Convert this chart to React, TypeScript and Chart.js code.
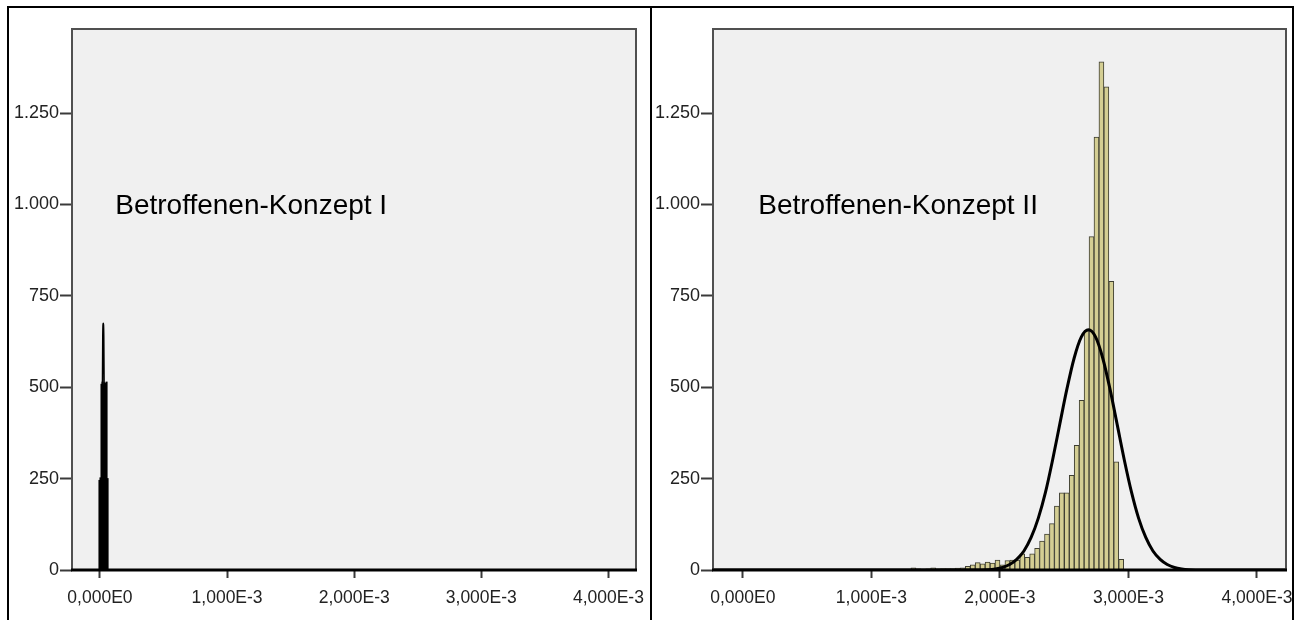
import React, { useEffect, useRef } from 'react';
import { Chart, registerables } from 'chart.js';

Chart.register(...registerables);

// x values are given in units of 1e-3
const xTickValuesE3 = [0, 1, 2, 3, 4];
const xTickLabels = ['0,000E0', '1,000E-3', '2,000E-3', '3,000E-3', '4,000E-3'];
const yTickValues = [0, 250, 500, 750, 1000, 1250];
const yTickLabels = ['0', '250', '500', '750', '1.000', '1.250'];
const panelTitles = ['Betroffenen-Konzept I', 'Betroffenen-Konzept II'];

// Panel I (very narrow distribution near zero)
const leftBinCentersE3 = [-0.004, 0.004, 0.012, 0.02, 0.028, 0.036, 0.044, 0.052, 0.06];
const leftBinCounts = [245, 252, 508, 514, 506, 512, 510, 514, 250];
const leftCurveXE3 = [-0.22, -0.005, 0.01, 0.018, 0.022, 0.026, 0.03, 0.034, 0.042, 0.057, 4.217];
const leftCurveY = [0, 0, 60, 420, 640, 675, 640, 420, 60, 0, 0];

// Panel II
const rightBinCentersE3 = [
  1.2885, 1.327, 1.3655, 1.404, 1.4425, 1.481, 1.5195, 1.558, 1.5965, 1.635, 1.6735,
  1.712, 1.7505, 1.789, 1.8275, 1.866, 1.9045, 1.943, 1.9815, 2.02, 2.0585, 2.097,
  2.1355, 2.174, 2.2125, 2.251, 2.2895, 2.328, 2.3665, 2.405, 2.4435, 2.482, 2.5205,
  2.559, 2.5975, 2.636, 2.6745, 2.713, 2.7515, 2.79, 2.8285, 2.867, 2.9055, 2.944,
];
const rightBinCounts = [
  2, 6, 3, 2, 3, 6, 3, 4, 4, 4, 5,
  6, 10, 14, 20, 17, 22, 19, 27, 14, 26, 27,
  27, 44, 35, 44, 59, 79, 98, 127, 175, 211, 211,
  259, 341, 464, 655, 912, 1184, 1390, 1322, 790, 296, 29,
];
const rightCurveXE3 = [
  -0.232, 1.797, 1.9085, 1.964, 2.02, 2.076, 2.131, 2.187, 2.243, 2.299, 2.355, 2.41,
  2.466, 2.522, 2.578, 2.633, 2.689, 2.745, 2.8, 2.856, 2.912, 2.968, 3.024, 3.079,
  3.135, 3.191, 3.247, 3.302, 3.358, 3.414, 3.47, 3.581, 4.226,
];
const rightCurveY = [
  0, 0, 1, 3, 7, 15, 29, 52, 89, 142, 213, 301,
  399, 496, 580, 637, 657, 637, 580, 496, 399, 301, 213, 142,
  89, 52, 29, 15, 7, 3, 1, 0, 0,
];

const FONT = '"Liberation Sans", Arial, Helvetica, sans-serif';

type PanelDef = {
  title: string;
  binX: number[];
  binY: number[];
  curveX: number[];
  curveY: number[];
  curveWidth: number;
  xMin: number;
  xMax: number;
  barFill: string;
  barBorder: string;
  barBorderWidth: number;
  barInflate: number | 'auto';
  padTop: number;
  padRight: number;
  yAxisWidth: number;
  xAxisHeight: number;
};

function makeConfig(p: PanelDef): any {
  const decor = {
    id: 'decor',
    beforeDraw(chart: any) {
      const { ctx, chartArea } = chart;
      ctx.save();
      ctx.fillStyle = '#F0F0F0';
      ctx.fillRect(chartArea.left, chartArea.top, chartArea.right - chartArea.left, chartArea.bottom - chartArea.top);
      ctx.restore();
    },
    afterDatasetsDraw(chart: any) {
      const { ctx, chartArea, scales } = chart;
      const { left, right, top, bottom } = chartArea;
      ctx.save();
      ctx.strokeStyle = '#505050';
      ctx.lineWidth = 2;
      ctx.beginPath();
      ctx.moveTo(left, bottom);
      ctx.lineTo(left, top);
      ctx.lineTo(right, top);
      ctx.lineTo(right, bottom);
      ctx.stroke();
      ctx.strokeStyle = '#000';
      ctx.lineWidth = 3;
      ctx.beginPath();
      ctx.moveTo(left - 1, bottom);
      ctx.lineTo(right + 1, bottom);
      ctx.stroke();
      ctx.fillStyle = '#000';
      ctx.font = `28px ${FONT}`;
      ctx.textAlign = 'left';
      ctx.textBaseline = 'alphabetic';
      const tx = scales.x.getPixelForValue(0.12);
      const ty = scales.y.getPixelForValue(1000) + 10;
      ctx.fillText(p.title, tx, ty);
      ctx.restore();
    },
  };

  return {
    type: 'bar',
    data: {
      datasets: [
        {
          type: 'line',
          data: p.curveX.map((x, i) => ({ x, y: p.curveY[i] })),
          borderColor: '#000',
          borderWidth: p.curveWidth,
          pointRadius: 0,
          cubicInterpolationMode: 'monotone',
          fill: false,
          order: 0,
        },
        {
          type: 'bar',
          data: p.binX.map((x, i) => ({ x, y: p.binY[i] })),
          backgroundColor: p.barFill,
          borderColor: p.barBorder,
          borderWidth: p.barBorderWidth,
          inflateAmount: p.barInflate,
          barPercentage: 1,
          categoryPercentage: 1,
          order: 1,
        },
      ],
    },
    options: {
      animation: false,
      responsive: false,
      maintainAspectRatio: false,
      layout: { padding: { top: p.padTop, right: p.padRight, left: 0, bottom: 0 } },
      plugins: { legend: { display: false }, tooltip: { enabled: false } },
      scales: {
        x: {
          type: 'linear',
          min: p.xMin,
          max: p.xMax,
          offset: false,
          afterBuildTicks: (s: any) => {
            s.ticks = xTickValuesE3.map((v) => ({ value: v }));
          },
          afterFit: (s: any) => {
            s.height = p.xAxisHeight;
            s.paddingLeft = 0;
            s.paddingRight = 0;
          },
          ticks: {
            autoSkip: false,
            maxRotation: 0,
            minRotation: 0,
            padding: 10,
            color: '#222',
            font: { family: FONT, size: 17.5 },
            callback: (v: any) => xTickLabels[xTickValuesE3.indexOf(Number(v))] ?? '',
          },
          grid: {
            offset: false,
            drawOnChartArea: false,
            drawTicks: true,
            tickLength: 8,
            tickWidth: 2,
            tickColor: '#3a3a3a',
          },
          border: { display: false },
        },
        y: {
          type: 'linear',
          min: 0,
          max: 1480,
          afterBuildTicks: (s: any) => {
            s.ticks = yTickValues.map((v) => ({ value: v }));
          },
          afterFit: (s: any) => {
            s.width = p.yAxisWidth;
            s.paddingTop = 0;
            s.paddingBottom = 0;
          },
          ticks: {
            autoSkip: false,
            padding: 1,
            color: '#222',
            font: { family: FONT, size: 18 },
            callback: (v: any) => yTickLabels[yTickValues.indexOf(Number(v))] ?? '',
          },
          grid: {
            offset: false,
            drawOnChartArea: false,
            drawTicks: true,
            tickLength: 12,
            tickWidth: 2,
            tickColor: '#3a3a3a',
          },
          border: { display: false },
        },
      },
    },
    plugins: [decor],
  };
}

function PanelChart({ def, left, width, height }: { def: PanelDef; left: number; width: number; height: number }) {
  const ref = useRef<HTMLCanvasElement | null>(null);
  useEffect(() => {
    if (!ref.current) return;
    const chart = new Chart(ref.current, makeConfig(def));
    return () => chart.destroy();
  }, [def]);
  return (
    <canvas
      ref={ref}
      width={width}
      height={height}
      style={{ position: 'absolute', left, top: 0, width, height }}
    />
  );
}

const leftDef: PanelDef = {
  title: panelTitles[0],
  binX: leftBinCentersE3,
  binY: leftBinCounts,
  curveX: leftCurveXE3,
  curveY: leftCurveY,
  curveWidth: 1.5,
  xMin: -0.22,
  xMax: 4.217,
  barFill: '#000000',
  barBorder: '#000000',
  barBorderWidth: 0,
  barInflate: 0.5,
  padTop: 29,
  padRight: 15,
  yAxisWidth: 72,
  xAxisHeight: 50,
};

const rightDef: PanelDef = {
  title: panelTitles[1],
  binX: rightBinCentersE3,
  binY: rightBinCounts,
  curveX: rightCurveXE3,
  curveY: rightCurveY,
  curveWidth: 3,
  xMin: -0.232,
  xMax: 4.226,
  barFill: '#D4CE93',
  barBorder: '#3e3e32',
  barBorderWidth: 1,
  barInflate: 'auto',
  padTop: 29,
  padRight: 7,
  yAxisWidth: 62,
  xAxisHeight: 50,
};

export default function App() {
  const line = (l: number, t: number, w: number, h: number) => (
    <div style={{ position: 'absolute', left: l, top: t, width: w, height: h, background: '#000' }} />
  );
  return (
    <div style={{ position: 'absolute', left: 0, top: 0, width: 1303, height: 620, background: '#fff', overflow: 'hidden' }}>
      <PanelChart def={leftDef} left={0} width={651} height={620} />
      <PanelChart def={rightDef} left={651} width={642} height={620} />
      {line(7, 6, 2, 614)}
      {line(7, 6, 1287, 2)}
      {line(650, 6, 2, 614)}
      {line(1292, 6, 2, 614)}
    </div>
  );
}
